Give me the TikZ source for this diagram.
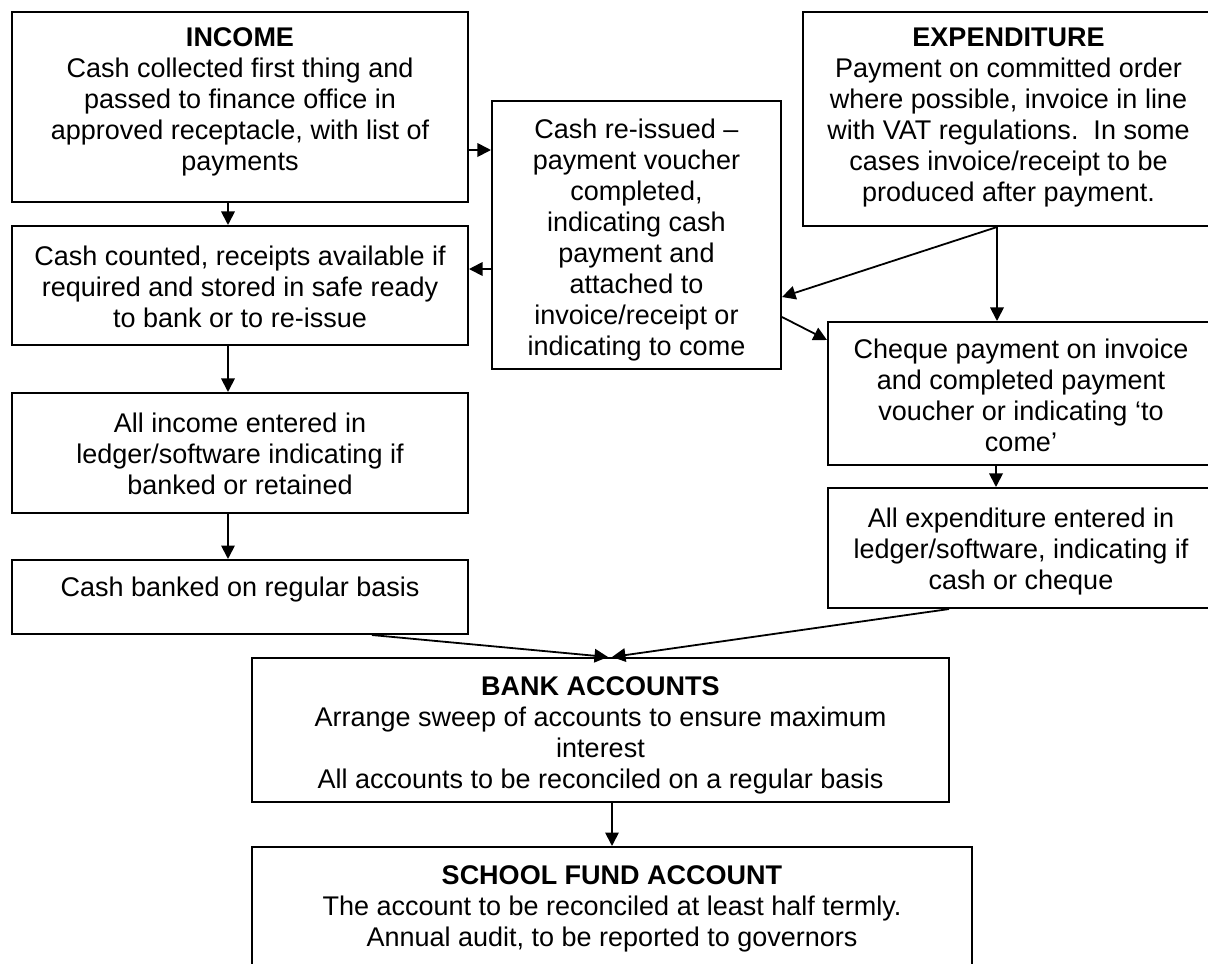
\documentclass[tikz,border=0pt]{standalone}
\usepackage{fontspec}
\setmainfont{Liberation Sans}
\usetikzlibrary{arrows.meta,calc,fit}

\begin{document}
\begin{tikzpicture}[
  x=0.4444pt, y=-0.4444pt,
  box/.style={draw, line width=0.9pt, rectangle, inner sep=0pt},
  txt/.style={anchor=north, inner sep=0pt, align=center,
              font=\fontsize{12pt}{13.8pt}\selectfont},
  arr/.style={line width=0.8pt, -{Triangle[length=6pt,width=6pt]}},
]
% page area
\fill[white] (0,0) rectangle (1208,963);
\useasboundingbox (0,0) rectangle (1208,963);

% boxes
\node[box, fit={(12,12) (468,202)}]    (income)  {};
\node[box, fit={(12,226) (468,345)}]   (counted) {};
\node[box, fit={(12,393) (468,513)}]   (allinc)  {};
\node[box, fit={(12,560) (468,634)}]   (banked)  {};
\node[box, fit={(492,101) (781,369)}]  (reissue) {};
\node[box, fit={(803,12) (1214,226)}]  (expend)  {};
\node[box, fit={(828,322) (1214,465)}] (cheque)  {};
\node[box, fit={(828,488) (1214,608)}] (allexp)  {};
\node[box, fit={(252,658) (949,802)}]  (bank)    {};
\node[box, fit={(252,847) (972,990)}]  (school)  {};

% box texts
\node[txt] (incomeT) at (240,27) {\textbf{INCOME}\\Cash collected first thing and\\passed to finance office in\\approved receptacle, with list of\\payments};
\node[txt] (countedT) at (240,245) {Cash counted, receipts available if\\required and stored in safe ready\\to bank or to re-issue};
\node[txt] (allincT) at (240,412) {All income entered in\\ledger/software indicating if\\banked or retained};
\node[txt] (bankedT) at (240,576) {Cash banked on regular basis};
\node[txt] (reissueT) at (636.5,118) {Cash re-issued –\\payment voucher\\completed,\\indicating cash\\payment and\\attached to\\invoice/receipt or\\indicating to come};
\node[txt] (expendT) at (1008.5,27) {\textbf{EXPENDITURE}\\Payment on committed order\\where possible, invoice in line\\with VAT regulations.\ \ In some\\cases invoice/receipt to be\\produced after payment.};
\node[txt] (chequeT) at (1021,338) {Cheque payment on invoice\\and completed payment\\voucher or indicating ‘to\\come’};
\node[txt] (allexpT) at (1021,507) {All expenditure entered in\\ledger/software, indicating if\\cash or cheque};
\node[txt] (bankT) at (600.5,676) {\textbf{BANK ACCOUNTS}\\Arrange sweep of accounts to ensure maximum\\interest\\All accounts to be reconciled on a regular basis};
\node[txt] (schoolT) at (612,865) {\textbf{SCHOOL FUND ACCOUNT}\\The account to be reconciled at least half termly.\\Annual audit, to be reported to governors};

% income column
\draw[arr] ($(income.south)+(-12,0)$) -- ($(counted.north)+(-12,0)$);
\draw[arr] ($(counted.south)+(-12,0)$) -- ($(allinc.north)+(-12,0)$);
\draw[arr] ($(allinc.south)+(-12,0)$) -- ($(banked.north)+(-12,0)$);

% cash re-issue links
\draw[arr] ($(income.east)+(0,43)$) -- ($(reissue.west)+(0,-85)$);
\draw[arr] ($(reissue.west)+(0,34)$) -- ($(counted.east)+(0,-16.5)$);
\draw[arr] ($(expend.south)+(-11.5,0)$) -- ($(reissue.east)+(0,62)$);
\draw[arr] ($(reissue.east)+(0,82)$) -- ($(cheque.west)+(0,-53.5)$);

% expenditure column
\draw[arr] ($(expend.south)+(-11.5,0)$) -- ($(cheque.north)+(-24,0)$);
\draw[arr] ($(cheque.south)+(-25,0)$) -- ($(allexp.north)+(-25,0)$);

% into the bank accounts
\draw[arr] ($(banked.south)+(132,0)$) -- ($(bank.north)+(7.5,0)$);
\draw[arr] ($(allexp.south)+(-72,0)$) -- ($(bank.north)+(11.5,0)$);
\draw[arr] ($(bank.south)+(11.5,0)$) -- (school.north);
\end{tikzpicture}
\end{document}
